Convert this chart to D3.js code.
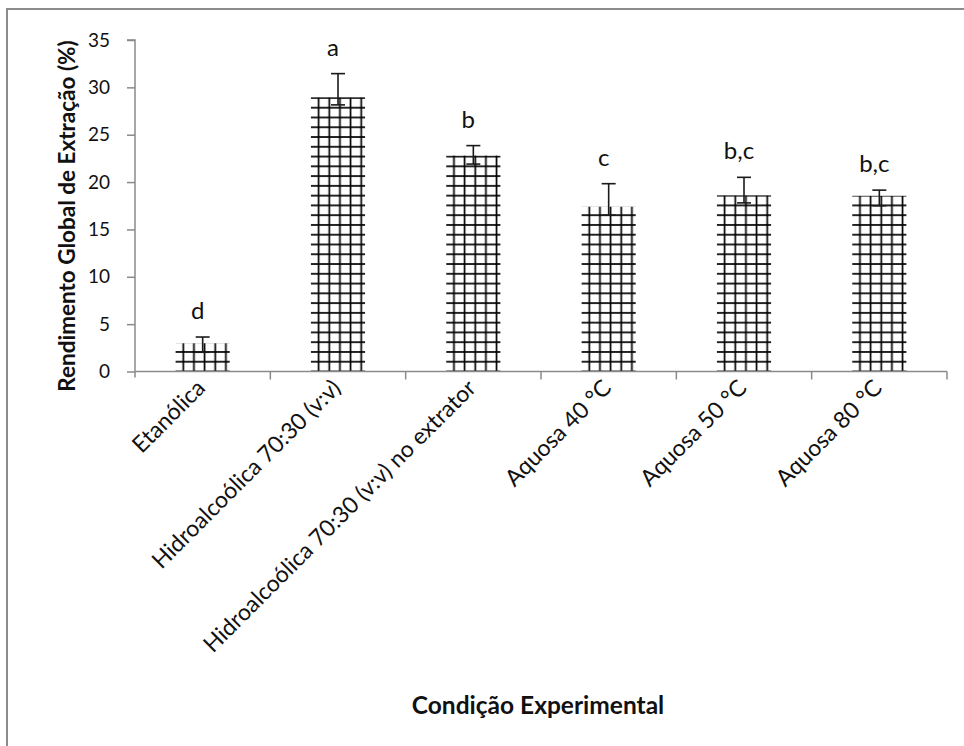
<!DOCTYPE html>
<html>
<head>
<meta charset="utf-8">
<script src="https://cdn.jsdelivr.net/npm/d3@7/dist/d3.min.js"></script>
<style>
  html, body { margin: 0; padding: 0; background: #fff; }
  svg { display: block; font-family: Lato, "Open Sans", sans-serif; }
</style>
</head>
<body>
<svg id="chart" width="964" height="746"></svg>
<script>
// Extraction yield per experimental condition (%)
const categories = [
  "Etanólica",
  "Hidroalcoólica 70:30 (v:v)",
  "Hidroalcoólica 70:30 (v:v) no extrator",
  "Aquosa 40 °C",
  "Aquosa 50 °C",
  "Aquosa 80 °C"
];
const yields   = [2.98, 28.95, 22.8, 17.4, 18.6, 18.55];
const errPlus  = [0.66, 2.5, 1.05, 2.43, 1.9, 0.6];
const errMinus = [0.95, 0.8, 0.9, 0.9, 0.8, 1.05];
const groups   = ["d", "a", "b", "c", "b,c", "b,c"];
const yTicks   = [0, 5, 10, 15, 20, 25, 30, 35];

const svg = d3.select("#chart");
const axisColor = "#8a8a8a";

// outer frame
svg.append("rect")
  .attr("x", 7).attr("y", 9)
  .attr("width", 1000).attr("height", 800)
  .attr("fill", "none").attr("stroke", "#8c8c8c").attr("stroke-width", 2);

const y = d3.scaleLinear().domain([0, 35]).range([371.5, 40]);
const x = d3.scaleBand().domain(categories).range([135, 947])
  .paddingInner(0.6).paddingOuter(0.3);

// cross-hatch fill, one tile set per bar so the grid starts at each bar's edge
const cellW = 10.65, cellH = 9.77, firstLine = 7.7;
const defs = svg.append("defs");
categories.forEach((c, i) => {
  const p = defs.append("pattern")
    .attr("id", "grid" + i)
    .attr("patternUnits", "userSpaceOnUse")
    .attr("x", x(c) + firstLine - cellW / 2)
    .attr("y", y(0) - cellH / 2)
    .attr("width", cellW).attr("height", cellH);
  p.append("rect").attr("width", cellW).attr("height", cellH).attr("fill", "#fff");
  p.append("line").attr("x1", cellW / 2).attr("x2", cellW / 2)
    .attr("y1", 0).attr("y2", cellH).attr("stroke", "#000").attr("stroke-width", 1.7);
  p.append("line").attr("x1", 0).attr("x2", cellW)
    .attr("y1", cellH / 2).attr("y2", cellH / 2).attr("stroke", "#000").attr("stroke-width", 1.7);
});

// bars
svg.append("g").selectAll("rect")
  .data(categories)
  .join("rect")
  .attr("x", c => x(c))
  .attr("y", (c, i) => y(yields[i]))
  .attr("width", x.bandwidth())
  .attr("height", (c, i) => y(0) - y(yields[i]))
  .attr("fill", (c, i) => `url(#grid${i})`);

// y axis
const yAxis = svg.append("g")
  .attr("transform", `translate(${x.range()[0]},0)`)
  .call(d3.axisLeft(y).tickValues(yTicks).tickSize(8).tickPadding(17));
yAxis.select(".domain").attr("stroke", axisColor).attr("stroke-width", 1.5)
  .attr("d", `M-8,${y(35)}H0V${y(0) + 6}`);
yAxis.selectAll(".tick line").attr("stroke", axisColor).attr("stroke-width", 1.5);
yAxis.selectAll(".tick text").attr("font-size", 19).attr("fill", "#111")
  .attr("font-family", "Lato, sans-serif");

// x axis: baseline with ticks on the category boundaries
const xg = svg.append("g");
const [x0, x1] = x.range();
xg.append("line").attr("x1", x0).attr("x2", x1).attr("y1", y(0)).attr("y2", y(0))
  .attr("stroke", axisColor).attr("stroke-width", 1.5);
xg.selectAll("line.tick")
  .data(d3.range(1, categories.length + 1))
  .join("line").attr("class", "tick")
  .attr("x1", i => x0 + i * x.step()).attr("x2", i => x0 + i * x.step())
  .attr("y1", y(0)).attr("y2", y(0) + 8)
  .attr("stroke", axisColor).attr("stroke-width", 1.5);

// rotated category labels
xg.selectAll("text")
  .data(categories)
  .join("text")
  .attr("transform", c => `translate(${x(c) + x.bandwidth() / 2 + 4},${y(0) + 18}) rotate(-45)`)
  .attr("text-anchor", "end")
  .attr("font-size", 23)
  .attr("fill", "#111")
  .text(c => c);

// error bars
const eb = svg.append("g").attr("stroke", "#1a1a1a").attr("stroke-width", 1.6);
categories.forEach((c, i) => {
  const cx = x(c) + x.bandwidth() / 2;
  const hi = y(yields[i] + errPlus[i]);
  const lo = y(yields[i] - errMinus[i]);
  eb.append("line").attr("x1", cx).attr("x2", cx).attr("y1", hi).attr("y2", lo);
  eb.append("line").attr("x1", cx - 7).attr("x2", cx + 7).attr("y1", hi).attr("y2", hi);
  eb.append("line").attr("x1", cx - 7).attr("x2", cx + 7).attr("y1", lo).attr("y2", lo);
});

// significance letters
svg.append("g").selectAll("text")
  .data(categories)
  .join("text")
  .attr("x", c => x(c) + x.bandwidth() / 2 - 5)
  .attr("y", (c, i) => y(yields[i] + errPlus[i]) - 18)
  .attr("text-anchor", "middle")
  .attr("font-size", 24)
  .attr("fill", "#111")
  .text((c, i) => groups[i]);

// axis titles
svg.append("text")
  .attr("transform", `translate(75,216) rotate(-90)`)
  .attr("text-anchor", "middle")
  .attr("font-size", 22.5).attr("font-weight", "bold").attr("fill", "#111")
  .text("Rendimento Global de Extração (%)");

svg.append("text")
  .attr("x", 538).attr("y", 714)
  .attr("text-anchor", "middle")
  .attr("font-size", 24.5).attr("font-weight", "bold").attr("fill", "#111")
  .text("Condição Experimental");
</script>
</body>
</html>
